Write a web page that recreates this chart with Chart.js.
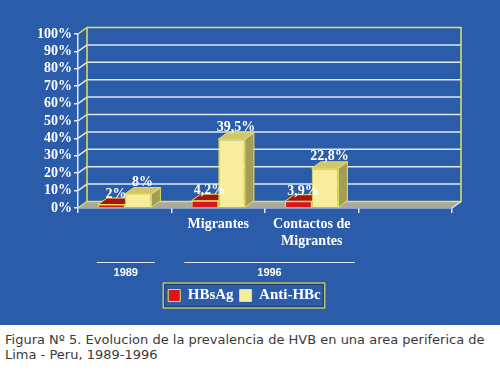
<!DOCTYPE html>
<html><head><meta charset="utf-8">
<script src="https://cdn.jsdelivr.net/npm/chart.js@4/dist/chart.umd.min.js"></script>
<style>
html,body{margin:0;padding:0;background:#fff;}
#wrap{width:500px;height:325px;background:#2b5ca9;}
#cap{font-family:"DejaVu Sans",Verdana,sans-serif;font-size:13px;color:#3a3a3a;line-height:15px;padding:7px 0 0 5px;white-space:nowrap;}
</style></head><body>
<div id="wrap"><canvas id="c" width="500" height="325"></canvas></div>
<div id="cap">Figura Nº 5. Evolucion de la prevalencia de HVB en una area periferica de<br>Lima - Peru, 1989-1996</div>
<script>
const categories = ['', 'Migrantes', ['Contactos de', 'Migrantes'], ''];
const hbsag = [2, 4.2, 3.9, null];
const antiHbc = [8, 39.5, 22.8, null];
const hbsagLabels = ['2%', '4,2%', '3,9%', ''];
const antiHbcLabels = ['8%', '39,5%', '22,8%', ''];
const seriesNames = ['HBsAg', 'Anti-HBc'];
const groupLabels = ['1989', '1996'];
const groupFrom = [0, 1];
const groupTo = [0, 2];

const DX = 9, DY = -6.5;
const LIGHT = '#dfe8f3', YEL = '#e2e25a';
const faceColors = [
  {top: '#a81212', side: '#8a0e0e'},
  {top: '#d2c36c', side: '#a59c55'}
];
const valueLabels = [hbsagLabels, antiHbcLabels];

function line(ctx, x1, y1, x2, y2) { ctx.beginPath(); ctx.moveTo(x1, y1); ctx.lineTo(x2, y2); ctx.stroke(); }
function poly(ctx, pts) { ctx.beginPath(); ctx.moveTo(pts[0][0], pts[0][1]); for (let i = 1; i < pts.length; i++) ctx.lineTo(pts[i][0], pts[i][1]); ctx.closePath(); }

const threeD = {
  id: 'threeD',
  beforeDatasetsDraw(chart) {
    const {ctx, chartArea: a, scales: {x, y}} = chart;
    const y0 = y.getPixelForValue(0);
    ctx.save();
    // floor
    ctx.fillStyle = '#a9a9a2';
    poly(ctx, [[a.left, y0], [a.right, y0], [a.right + DX, y0 + DY], [a.left + DX, y0 + DY]]);
    ctx.fill();
    // back-wall gridlines
    ctx.lineWidth = 1.5;
    y.ticks.forEach(t => {
      const py = y.getPixelForValue(t.value);
      if (t.value === 0 || t.value === 100) return;
      ctx.strokeStyle = LIGHT;
      line(ctx, a.left + DX, py + DY, a.right + DX, py + DY);
      line(ctx, a.left, py, a.left + DX, py + DY);
    });
    // wall borders
    ctx.strokeStyle = YEL;
    ctx.strokeRect(a.left + DX, a.top + DY, a.right - a.left, y0 - a.top);
    line(ctx, a.left, a.top, a.left + DX, a.top + DY);
    line(ctx, a.left, y0, a.left + DX, y0 + DY);
    ctx.strokeStyle = LIGHT;
    line(ctx, a.right, y0, a.right + DX, y0 + DY);
    // bar top and side faces
    ctx.lineWidth = 1;
    chart.data.datasets.forEach((ds, i) => {
      const meta = chart.getDatasetMeta(i);
      meta.data.forEach((bar, j) => {
        if (ds.data[j] == null) return;
        const p = bar.getProps(['x', 'y', 'base', 'width'], true);
        const x1 = p.x - p.width / 2, x2 = p.x + p.width / 2;
        ctx.strokeStyle = YEL;
        ctx.fillStyle = faceColors[i].side;
        poly(ctx, [[x2, p.y], [x2 + DX, p.y + DY], [x2 + DX, p.base + DY], [x2, p.base]]);
        ctx.fill(); ctx.stroke();
        ctx.fillStyle = faceColors[i].top;
        poly(ctx, [[x1, p.y], [x2, p.y], [x2 + DX, p.y + DY], [x1 + DX, p.y + DY]]);
        ctx.fill(); ctx.stroke();
      });
    });
    ctx.restore();
  },
  afterDatasetsDraw(chart) {
    const {ctx} = chart;
    ctx.save();
    ctx.fillStyle = '#ffffff';
    ctx.font = 'bold 14px "Liberation Serif", "Times New Roman", serif';
    ctx.textAlign = 'center';
    ctx.textBaseline = 'alphabetic';
    chart.data.datasets.forEach((ds, i) => {
      const meta = chart.getDatasetMeta(i);
      meta.data.forEach((bar, j) => {
        if (ds.data[j] == null) return;
        const p = bar.getProps(['x', 'y'], true);
        ctx.fillText(valueLabels[i][j], p.x + DX / 2, p.y + DY - (i === 0 ? 0 : 2));
      });
    });
    ctx.restore();
  },
  afterDraw(chart) {
    const {ctx, chartArea: a, scales: {x}} = chart;
    ctx.save();
    // group lines + labels
    for (let g = 0; g < groupLabels.length; g++) {
      const xa = x.getPixelForValue(groupFrom[g]) - 28 - (g === 0 ? 0 : 6);
      const xb = x.getPixelForValue(groupTo[g]) + 30 + (g === 0 ? 0 : 13);
      ctx.strokeStyle = LIGHT; ctx.lineWidth = 1.2;
      line(ctx, xa, a.bottom + 54.5, xb, a.bottom + 54.5);
      ctx.fillStyle = '#ffffff';
      ctx.font = 'bold 11px "Liberation Sans", Arial, sans-serif';
      ctx.textAlign = 'center'; ctx.textBaseline = 'middle';
      ctx.fillText(groupLabels[g], (xa + xb) / 2, a.bottom + 64.5);
    }
    // legend frame
    const lg = chart.legend;
    if (lg && lg.legendHitBoxes && lg.legendHitBoxes.length) {
      const hb = lg.legendHitBoxes;
      const l = Math.min(...hb.map(h => h.left)) - 5;
      const r = Math.max(...hb.map(h => h.left + h.width)) + 4;
      const t = Math.min(...hb.map(h => h.top)) - 5;
      const b = Math.max(...hb.map(h => h.top + h.height)) + 5;
      ctx.strokeStyle = '#b9c163'; ctx.lineWidth = 1.5;
      ctx.strokeRect(l, t, r - l, b - t);
      ctx.strokeStyle = '#1f3f6f'; ctx.lineWidth = 1;
      ctx.strokeRect(l + 1.5, t + 1.5, r - l - 3, b - t - 3);
    }
    ctx.restore();
  }
};

new Chart(document.getElementById('c'), {
  type: 'bar',
  data: {
    labels: categories,
    datasets: [
      {label: seriesNames[0], data: hbsag, backgroundColor: '#d81818', borderColor: YEL, borderWidth: 1},
      {label: seriesNames[1], data: antiHbc, backgroundColor: '#f6ee9c', borderColor: YEL, borderWidth: 1}
    ]
  },
  options: {
    responsive: false,
    animation: false,
    layout: {padding: {top: 34, left: 37, right: 48, bottom: 12}},
    datasets: {bar: {categoryPercentage: 0.57, barPercentage: 1.0}},
    plugins: {
      legend: {
        position: 'bottom',
        labels: {
          color: '#ffffff',
          font: {family: '"Liberation Serif", "Times New Roman", serif', weight: 'bold', size: 15},
          boxWidth: 12, boxHeight: 12, padding: 6
        }
      },
      tooltip: {enabled: false}
    },
    scales: {
      x: {
        ticks: {color: '#ffffff', padding: 3, font: {family: '"Liberation Serif", "Times New Roman", serif', weight: 'bold', size: 14}, maxRotation: 0},
        grid: {drawOnChartArea: false, drawTicks: true, tickLength: 5, color: LIGHT, lineWidth: 1.5, offset: true},
        border: {display: true, color: LIGHT, width: 1.5},
        afterFit(s) { s.height = 74; }
      },
      y: {
        min: 0, max: 100,
        ticks: {stepSize: 10, autoSkip: false, callback: v => v + '%', color: '#ffffff', padding: 2, font: {family: '"Liberation Serif", "Times New Roman", serif', weight: 'bold', size: 14}},
        grid: {drawOnChartArea: false, drawTicks: true, tickLength: 4, color: LIGHT, lineWidth: 1.5},
        border: {display: true, color: LIGHT, width: 1.5},
        afterFit(s) { s.width = 41; }
      }
    }
  },
  plugins: [threeD]
});
</script>
</body></html>
